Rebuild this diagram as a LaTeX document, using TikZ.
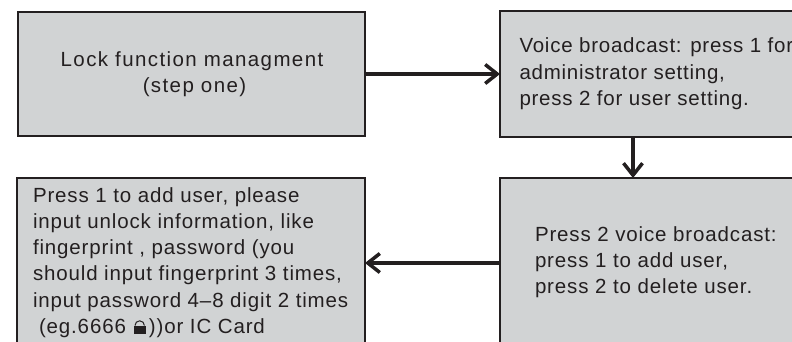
\documentclass[tikz,border=0pt]{standalone}
\usepackage{fontspec}
\setmainfont{Liberation Sans}[LetterSpace=4.2]
\newfontfamily\widefont{Liberation Sans}[LetterSpace=6.8]
\newfontfamily\tightfont{Liberation Sans}[LetterSpace=3.7]
\usetikzlibrary{arrows.meta,calc}
\definecolor{boxfill}{HTML}{D1D3D4}
\definecolor{ink}{HTML}{231F20}
\tikzset{
  flowbox/.style={draw=ink,fill=boxfill,line width=1.8pt,minimum width=#1,rectangle,inner sep=0pt,outer sep=0pt},
  label/.style={text=ink,inner sep=0pt,outer sep=0pt,font=\fontsize{20.5}{26.2}\selectfont},
  flow/.style={draw=ink,line width=3.5pt,-{Straight Barb[length=12pt,width=19pt,line width=3.5pt]}},
}
\begin{document}
\begin{tikzpicture}[x=1pt,y=-1pt]
\useasboundingbox (0,0) rectangle (792,342);
\clip (0,0) rectangle (792,342);
\node[flowbox=347pt,minimum height=124pt,anchor=north west] (b1) at (18,12) {};
\node[flowbox=320pt,minimum height=126pt,anchor=north west] (b2) at (500,11) {};
\node[flowbox=320pt,minimum height=170pt,anchor=north west] (b3) at (500,178) {};
\node[flowbox=348pt,minimum height=170pt,anchor=north west] (b4) at (17,178) {};
\node[label,align=center,font=\fontsize{20.5}{26.2}\widefont] (t1) at (192,74.5) {Lock function managment\\\hspace*{5pt}(step one)};
\node[label,align=left,anchor=north west,font=\fontsize{20.5}{26.2}\tightfont] (t2) at (519.5,38) {Voice broadcast: press 1 for\\administrator setting,\\press 2 for user setting.};
\node[label,align=left,anchor=north west] (t3) at (535,226.5) {Press 2 voice broadcast:\\press 1 to add user,\\press 2 to delete user.};
\node[label,align=left,anchor=north west] (t4) at (33,187.5) {Press 1 to add user, please\\input unlock information, like\\fingerprint , password (you\\should input fingerprint 3 times,\\input password 4--8 digit 2 times\\\hspace*{6pt}(eg.6666\hspace*{23pt}))or IC Card};
\coordinate (v2) at ($(b2.south west)+(133,0)$);
\coordinate (v3) at ($(b3.north west)+(133,0)$);
\draw[flow] (b1.east) -- (b2.west);
\draw[flow] (v2) -- (v3);
\draw[flow] (b3.west) -- (b4.east);
% lock glyph
\fill[ink] (133.5,325.5) rectangle (146,334);
\draw[ink,line width=1pt] (135,325.5) arc[start angle=180,end angle=360,radius=4.7];
\end{tikzpicture}
\end{document}
